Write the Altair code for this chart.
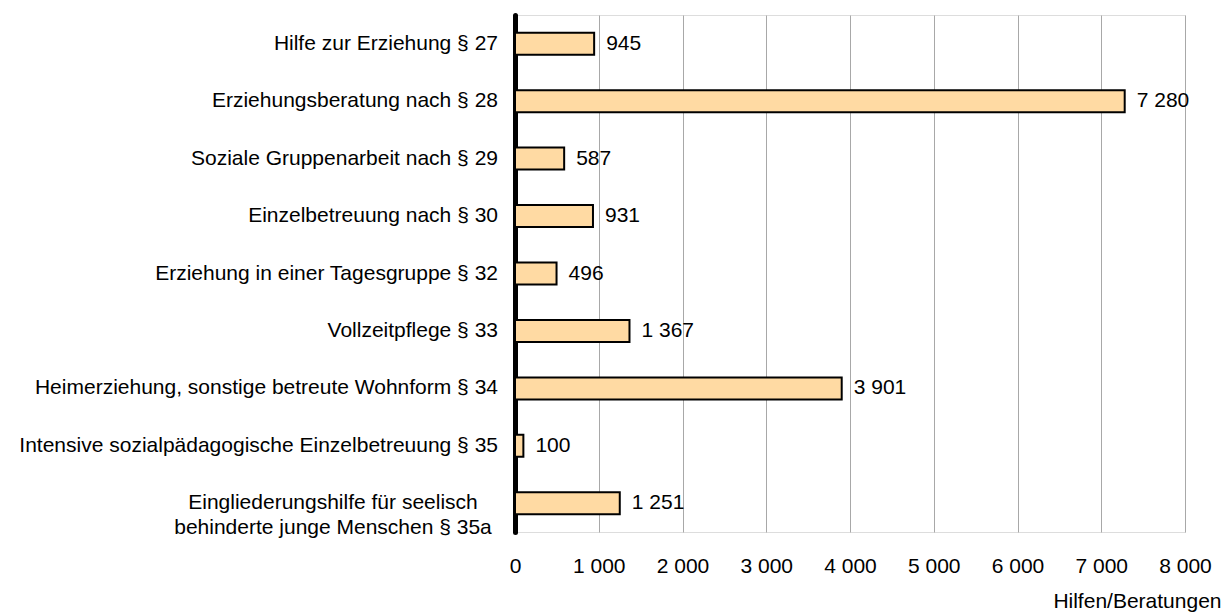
import altair as alt
import pandas as pd

categories = [
    "Hilfe zur Erziehung § 27",
    "Erziehungsberatung nach § 28",
    "Soziale Gruppenarbeit nach § 29",
    "Einzelbetreuung nach § 30",
    "Erziehung in einer Tagesgruppe § 32",
    "Vollzeitpflege § 33",
    "Heimerziehung, sonstige betreute Wohnform § 34",
    "Intensive sozialpädagogische Einzelbetreuung § 35",
    "Eingliederungshilfe für seelisch behinderte junge Menschen § 35a",
]
display_labels = [
    "Hilfe zur Erziehung § 27",
    "Erziehungsberatung nach § 28",
    "Soziale Gruppenarbeit nach § 29",
    "Einzelbetreuung nach § 30",
    "Erziehung in einer Tagesgruppe § 32\u00a0",
    "Vollzeitpflege § 33\u00a0",
    "Heimerziehung, sonstige betreute Wohnform § 34",
    "Intensive sozialpädagogische Einzelbetreuung § 35",
    "Eingliederungshilfe für seelisch\nbehinderte junge Menschen § 35a",
]
values = [945, 7280, 587, 931, 496, 1367, 3901, 100, 1251]
x_ticks = [0, 1000, 2000, 3000, 4000, 5000, 6000, 7000, 8000]

df = pd.DataFrame({
    "cat": categories,
    "disp": display_labels,
    "value": values,
    "label": [f"{v:,}".replace(",", " ") for v in values],
    "multi": ["\n" in d for d in display_labels],
})

FONT = "Liberation Sans"
FS = 21

y_enc = alt.Y("cat:N", sort=categories, title=None,
              scale=alt.Scale(paddingInner=0.58, paddingOuter=0.29),
              axis=alt.Axis(labels=False, ticks=False, domain=True,
                            domainColor="black", domainWidth=5,
                            domainCap="round", grid=False))
x_enc = alt.X("value:Q",
              scale=alt.Scale(domain=[0, 8000], nice=False),
              axis=alt.Axis(values=x_ticks, format="d",
                            labelExpr="replace(format(datum.value, ','), ',', ' ')",
                            grid=True, gridColor="#a8a8a8", gridWidth=1,
                            domain=False, ticks=False, labelFlush=False,
                            labelOverlap=False,
                            labelFont=FONT, labelFontSize=FS, labelColor="black",
                            labelPadding=23, labelBaseline="top",
                            title="Hilfen/Beratungen",
                            titleFont=FONT, titleFontSize=FS, titleFontWeight="normal",
                            titleColor="black", titleAlign="right",
                            titleBaseline="alphabetic", titleX=706, titleY=75,
                            titleAngle=0))

base = alt.Chart(df)

bars = base.mark_bar(size=22, fill="#FFDAA3", stroke="black", strokeWidth=2).encode(
    x=x_enc, y=y_enc
)

vals = base.mark_text(align="left", baseline="middle", dx=12, font=FONT,
                      fontSize=FS, color="black").encode(
    x="value:Q", y=alt.Y("cat:N", sort=categories), text="label:N"
)

ylab_single = base.transform_filter("!datum.multi").mark_text(
    align="right", baseline="middle", font=FONT, fontSize=FS, color="black"
).encode(x=alt.value(-17), y=alt.Y("cat:N", sort=categories), text="disp:N")

ylab_multi = base.transform_filter("datum.multi").mark_text(
    align="center", baseline="middle", font=FONT, fontSize=FS, color="black",
    lineBreak="\n", lineHeight=25
).encode(x=alt.value(-182), y=alt.Y("cat:N", sort=categories), text="disp:N")

chart = alt.layer(bars, vals, ylab_single, ylab_multi).properties(
    width=670, height=517,
    autosize=alt.AutoSizeParams(type="none"),
    padding={"left": 507, "top": 7, "right": 37, "bottom": 80},
).configure_view(stroke=None).configure(background="white")

chart.save("out.html", embed_options={"renderer": "svg", "actions": False})
